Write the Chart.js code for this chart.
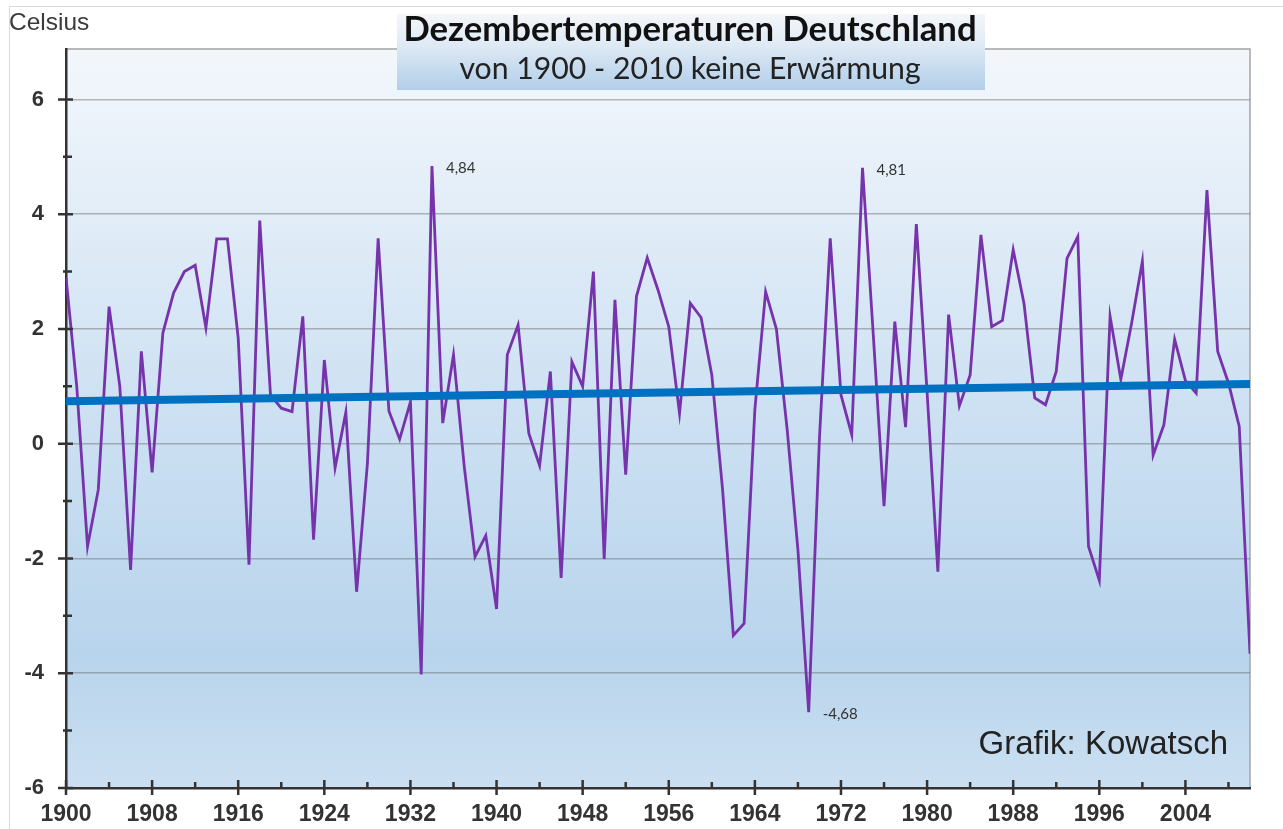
<!DOCTYPE html>
<html lang="de">
<head>
<meta charset="utf-8">
<title>Dezembertemperaturen Deutschland</title>
<script src="https://cdn.jsdelivr.net/npm/chart.js@4.4.0/dist/chart.umd.min.js"></script>
<style>
  html, body { margin: 0; padding: 0; background: #fff; }
  #wrap { position: relative; width: 1283px; height: 829px; }
</style>
</head>
<body>
<div id="wrap"><canvas id="chartDecember"></canvas></div>
<script>
const firstYear = 1900;
const lastYear = 2010;

// Dezember-Mittel Deutschland, 1900 .. 2010 (°C)
const decemberTemps = [
  2.90, 1.00, -1.79, -0.80, 2.39, 1.00, -2.20, 1.61, -0.50, 1.93,   // 1900-1909
  2.63, 3.00, 3.11, 2.02, 3.57, 3.57, 1.84, -2.11, 3.89, 0.85,      // 1910-1919
  0.62, 0.56, 2.22, -1.67, 1.46, -0.42, 0.55, -2.58, -0.35, 3.58,   // 1920-1929
  0.57, 0.08, 0.73, -4.02, 4.84, 0.36, 1.55, -0.40, -1.97, -1.60,   // 1930-1939
  -2.88, 1.55, 2.07, 0.18, -0.38, 1.26, -2.34, 1.43, 1.00, 3.00,    // 1940-1949
  -2.01, 2.51, -0.54, 2.57, 3.24, 2.68, 2.04, 0.53, 2.45, 2.20,     // 1950-1959
  1.20, -0.80, -3.34, -3.13, 0.60, 2.65, 2.00, 0.25, -1.85, -4.68,  // 1960-1969
  0.10, 3.58, 0.85, 0.16, 4.81, 1.90, -1.09, 2.13, 0.29, 3.83,      // 1970-1979
  0.90, -2.23, 2.25, 0.66, 1.20, 3.64, 2.04, 2.15, 3.38, 2.45,      // 1980-1989
  0.80, 0.68, 1.26, 3.23, 3.61, -1.79, -2.38, 2.22, 1.12, 2.10,     // 1990-1999
  3.18, -0.20, 0.33, 1.82, 1.10, 0.88, 4.42, 1.61, 1.06, 0.30,      // 2000-2009
  -3.66                                                             // 2010
];

const trendYears = [1900, 2010];
const trendValues = [0.74, 1.04];

const xTickYears = [1900, 1908, 1916, 1924, 1932, 1940, 1948, 1956, 1964, 1972, 1980, 1988, 1996, 2004];
const yTickValues = [-6, -4, -2, 0, 2, 4, 6];
const labelledYears = [1934, 1974, 1969];

const chartTitle = 'Dezembertemperaturen Deutschland';
const chartSubtitle = 'von 1900 - 2010 keine Erwärmung';
const yUnit = 'Celsius';
const creditText = 'Grafik: Kowatsch';

function fitFont(ctx, text, weight, family, width) {
  ctx.font = `${weight} 100px ${family}`;
  const size = 100 * width / ctx.measureText(text).width;
  return `${weight} ${size.toFixed(1)}px ${family}`;
}

const plotBackground = {
  id: 'plotBackground',
  beforeDraw(chart) {
    const { ctx, chartArea: a } = chart;
    ctx.save();
    ctx.strokeStyle = '#dadada';
    ctx.lineWidth = 1;
    ctx.strokeRect(9.5, 6.5, chart.width, chart.height);

    const g = ctx.createLinearGradient(0, a.top, 0, a.bottom);
    g.addColorStop(0, '#f3f7fc');
    g.addColorStop(0.5, '#cce0f2');
    g.addColorStop(0.82, '#b8d4ec');
    g.addColorStop(1, '#cbdff1');
    ctx.fillStyle = g;
    ctx.fillRect(a.left, a.top, a.right - a.left, a.bottom - a.top);

    ctx.strokeStyle = '#a4a4a4';
    ctx.lineWidth = 1.5;
    ctx.strokeRect(a.left, a.top, a.right - a.left, a.bottom - a.top);
    ctx.restore();
  }
};

const axisTicks = {
  id: 'axisTicks',
  afterDraw(chart) {
    const { ctx, chartArea: a, scales: { x, y } } = chart;
    ctx.save();
    ctx.strokeStyle = '#333';
    ctx.lineWidth = 2.5;
    ctx.beginPath();
    yTickValues.forEach(v => {
      const py = y.getPixelForValue(v);
      ctx.moveTo(a.left - 8, py);
      ctx.lineTo(a.left + 7, py);
      if (v + 1 <= y.max) {
        const pm = y.getPixelForValue(v + 1);
        ctx.moveTo(a.left - 3, pm);
        ctx.lineTo(a.left + 6, pm);
      }
    });
    xTickYears.forEach(yr => {
      const px = x.getPixelForValue(yr);
      ctx.moveTo(px, a.bottom - 8);
      ctx.lineTo(px, a.bottom + 7);
      if (yr + 4 <= lastYear) {
        const pm = x.getPixelForValue(yr + 4);
        ctx.moveTo(pm, a.bottom - 6);
        ctx.lineTo(pm, a.bottom + 1);
      }
    });
    ctx.stroke();
    ctx.restore();
  }
};

const annotations = {
  id: 'annotations',
  afterDraw(chart) {
    const { ctx } = chart;
    const meta = chart.getDatasetMeta(1);
    ctx.save();

    // value labels at the extremes
    ctx.font = '15px Lato';
    ctx.fillStyle = '#333';
    ctx.textAlign = 'left';
    ctx.textBaseline = 'middle';
    labelledYears.forEach(yr => {
      const i = yr - firstYear;
      const pt = meta.data[i];
      ctx.fillText(decemberTemps[i].toFixed(2).replace('.', ','), pt.x + 14, pt.y + 2);
    });

    // unit above the y axis
    ctx.textBaseline = 'alphabetic';
    ctx.font = '24.5px "Liberation Sans"';
    ctx.fillStyle = '#3a3a3a';
    ctx.fillText(yUnit, 9, 30);

    // credit
    ctx.font = '33px "Liberation Sans"';
    ctx.fillStyle = '#222';
    ctx.textAlign = 'right';
    ctx.fillText(creditText, 1228, 754);

    // title box
    const bx = 397, by = 14, bw = 588, bh = 76;
    const g = ctx.createLinearGradient(0, by, 0, by + bh);
    g.addColorStop(0, '#f3f6fa');
    g.addColorStop(0.35, '#e3ecf6');
    g.addColorStop(1, '#b1cee9');
    ctx.fillStyle = g;
    ctx.fillRect(bx, by, bw, bh);

    ctx.textAlign = 'center';
    ctx.fillStyle = '#111';
    ctx.font = fitFont(ctx, chartTitle, 'bold', 'Lato', 574);
    ctx.fillText(chartTitle, 690, 41);
    ctx.fillStyle = '#222';
    ctx.font = fitFont(ctx, chartSubtitle, 'normal', 'Lato', 461);
    ctx.fillText(chartSubtitle, 690, 79);
    ctx.restore();
  }
};

new Chart(document.getElementById('chartDecember'), {
  type: 'line',
  data: {
    datasets: [
      {
        label: 'Trend',
        data: trendYears.map((yr, i) => ({ x: yr, y: trendValues[i] })),
        borderColor: '#0070c0',
        borderWidth: 8,
        pointRadius: 0,
        order: 0
      },
      {
        label: 'Dezember',
        data: decemberTemps.map((v, i) => ({ x: firstYear + i, y: v })),
        borderColor: '#7633ab',
        borderWidth: 2.8,
        pointRadius: 0,
        tension: 0,
        order: 1
      }
    ]
  },
  options: {
    responsive: true,
    maintainAspectRatio: false,
    animation: false,
    layout: { padding: { top: 49, right: 33, left: 0, bottom: 0 } },
    plugins: { legend: { display: false }, tooltip: { enabled: false } },
    scales: {
      x: {
        type: 'linear',
        min: firstYear,
        max: lastYear,
        afterBuildTicks: s => { s.ticks = xTickYears.map(v => ({ value: v })); },
        afterFit: s => { s.height = 41; },
        grid: { display: true, color: 'rgba(0,0,0,0)', drawTicks: false },
        border: { display: true, color: '#333', width: 2.5 },
        ticks: {
          autoSkip: false,
          maxRotation: 0,
          padding: 13,
          color: '#333',
          font: { family: 'Liberation Sans', size: 23, weight: 'bold' },
          callback: v => String(v)
        }
      },
      y: {
        min: -6,
        max: 6.88,
        afterBuildTicks: s => { s.ticks = yTickValues.map(v => ({ value: v })); },
        afterFit: s => { s.width = 66; },
        grid: {
          color: c => (c.tick && c.tick.value > -6 ? 'rgba(105,105,105,0.45)' : 'rgba(0,0,0,0)'),
          lineWidth: 1.5,
          drawTicks: false
        },
        border: { display: true, color: '#333', width: 2.5 },
        ticks: {
          padding: 22,
          color: '#333',
          font: { family: 'Liberation Sans', size: 22, weight: 'bold' },
          callback: v => String(v)
        }
      }
    }
  },
  plugins: [plotBackground, axisTicks, annotations]
});
</script>
</body>
</html>
